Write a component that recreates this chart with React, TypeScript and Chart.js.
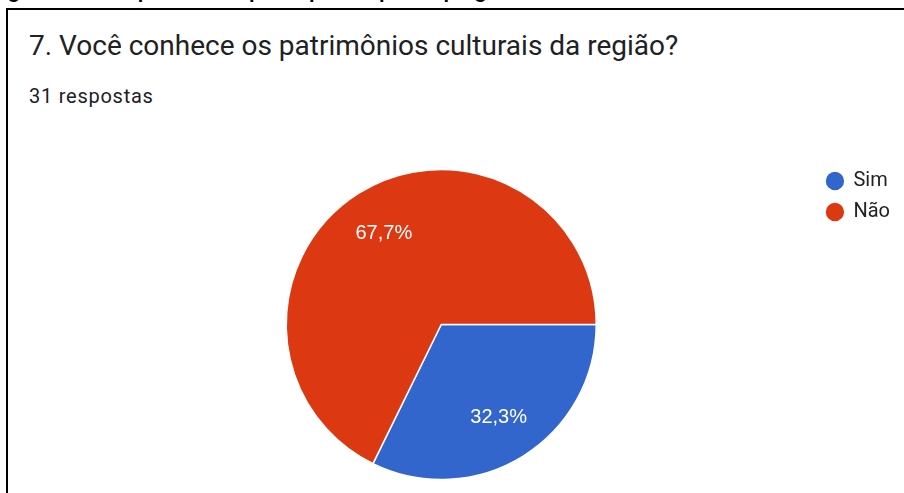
import React, { useEffect, useRef } from "react";
import { Chart, registerables } from "chart.js";

Chart.register(...registerables);

const categories = ["Sim", "Não"];
const counts = [10, 21];
const totalResponses = 31;
const sliceColors = ["#3366cc", "#dc3912"];

const pctText = (v: number) =>
  ((v / counts.reduce((a, b) => a + b, 0)) * 100).toFixed(1).replace(".", ",") + "%";

const pctPlugin = {
  id: "pctLabels",
  afterDatasetsDraw(chart: any) {
    const meta = chart.getDatasetMeta(0);
    const ctx = chart.ctx;
    ctx.save();
    ctx.fillStyle = "#ffffff";
    ctx.font = "20px 'Liberation Sans', Arial, sans-serif";
    ctx.textAlign = "center";
    ctx.textBaseline = "middle";
    meta.data.forEach((arc: any, i: number) => {
      const p = arc.getProps(["x", "y", "startAngle", "endAngle", "outerRadius"], true);
      const mid = (p.startAngle + p.endAngle) / 2;
      const r = p.outerRadius * 0.7;
      ctx.fillText(pctText(counts[i]), p.x + Math.cos(mid) * r, p.y + Math.sin(mid) * r + 1);
    });
    ctx.restore();
  },
};

export default function App() {
  const ref = useRef<HTMLCanvasElement | null>(null);

  useEffect(() => {
    if (!ref.current) return;
    const chart = new Chart(ref.current, {
      type: "pie",
      data: {
        labels: categories,
        datasets: [
          {
            data: counts,
            backgroundColor: sliceColors,
            borderColor: "#ffffff",
            borderWidth: 1.5,
            radius: 155,
          },
        ],
      },
      options: {
        responsive: false,
        animation: false,
        rotation: 90,
        layout: { padding: { top: 160, bottom: 4, left: 67, right: 4 } },
        plugins: {
          tooltip: { enabled: false },
          legend: {
            position: "right",
            align: "start",
            labels: {
              usePointStyle: true,
              pointStyle: "circle",
              boxWidth: 17,
              boxHeight: 14,
              padding: 11,
              color: "#222222",
              font: { family: "Roboto", size: 20 },
            },
          },
        },
      },
      plugins: [pctPlugin],
    });
    return () => chart.destroy();
  }, []);

  return (
    <div style={{ position: "absolute", left: 0, top: 0, width: 904, height: 493, overflow: "hidden", background: "#fff" }}>
      <div
        style={{
          position: "absolute",
          left: -10,
          top: -19,
          whiteSpace: "nowrap",
          fontFamily: "'Liberation Sans', Arial, sans-serif",
          fontWeight: "bold",
          fontSize: 20,
          lineHeight: "20px",
          color: "#000",
        }}
      >
        Figura 12 – Respostas dos participantes para a pergunta 7
      </div>
      <div
        style={{
          position: "absolute",
          left: 6,
          top: 8,
          width: 1000,
          height: 600,
          borderLeft: "2px solid #000",
          borderTop: "2px solid #000",
        }}
      />
      <div
        style={{
          position: "absolute",
          left: 29,
          top: 32,
          whiteSpace: "nowrap",
          fontFamily: "Roboto, sans-serif",
          fontSize: 28,
          lineHeight: 1,
          color: "#202124",
        }}
      >
        7. Você conhece os patrimônios culturais da região?
      </div>
      <div
        style={{
          position: "absolute",
          left: 29,
          top: 86,
          whiteSpace: "nowrap",
          fontFamily: "Roboto, sans-serif",
          fontSize: 20,
          lineHeight: 1,
          letterSpacing: 0.75,
          color: "#202124",
        }}
      >
        {totalResponses} respostas
      </div>
      <canvas ref={ref} width={904} height={493} style={{ position: "absolute", left: 0, top: 0 }} />
    </div>
  );
}
